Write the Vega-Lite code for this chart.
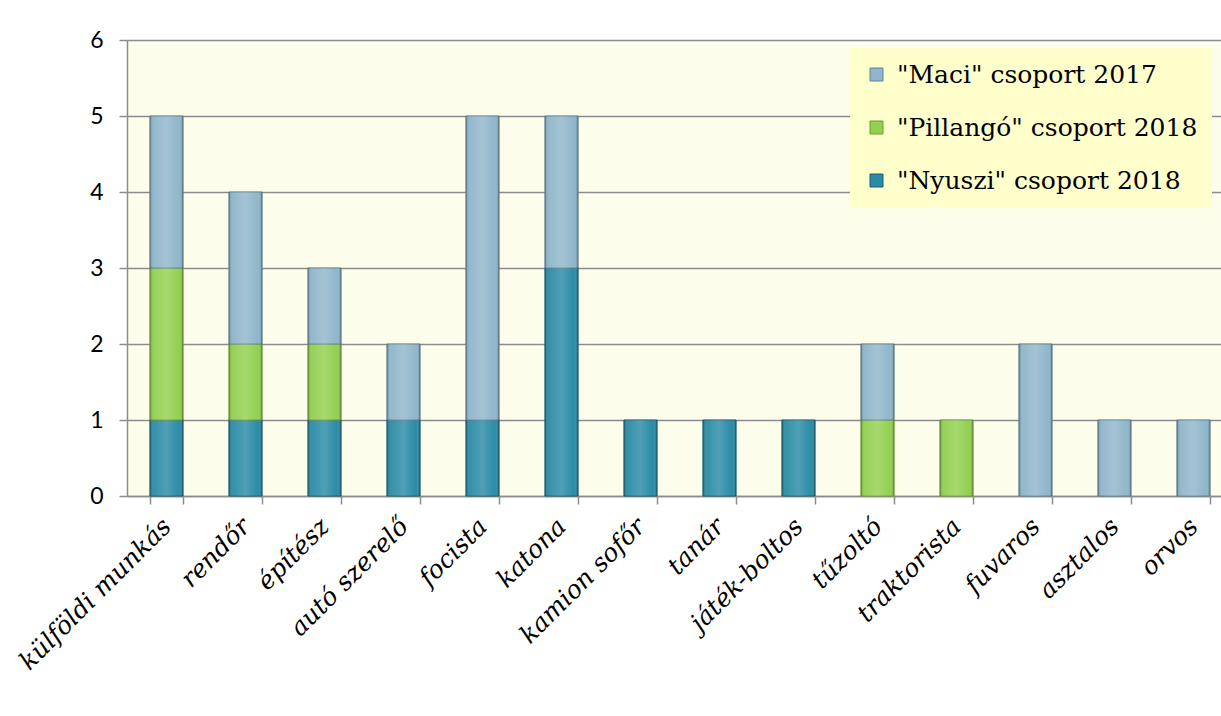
{
  "$schema": "https://vega.github.io/schema/vega-lite/v6.json",
  "autosize": "none",
  "width": 1106,
  "height": 456,
  "padding": {"left": 127, "top": 40, "right": 0, "bottom": 220},
  "background": "#ffffff",
  "config": {
    "view": {"fill": "#FDFDEC", "stroke": null},
    "axis": {"domainColor": "#8c8c8c", "tickColor": "#8c8c8c", "gridColor": "#8c8c8c", "domainWidth": 1.5, "tickWidth": 1.5, "gridWidth": 1.5}
  },
  "data": {
    "values": [
      {"job": "külföldi munkás", "series": "\"Nyuszi\" csoport 2018", "k": 1, "n": 1},
      {"job": "külföldi munkás", "series": "\"Pillangó\" csoport 2018", "k": 2, "n": 2},
      {"job": "külföldi munkás", "series": "\"Maci\" csoport 2017", "k": 3, "n": 2},
      {"job": "rendőr", "series": "\"Nyuszi\" csoport 2018", "k": 1, "n": 1},
      {"job": "rendőr", "series": "\"Pillangó\" csoport 2018", "k": 2, "n": 1},
      {"job": "rendőr", "series": "\"Maci\" csoport 2017", "k": 3, "n": 2},
      {"job": "építész", "series": "\"Nyuszi\" csoport 2018", "k": 1, "n": 1},
      {"job": "építész", "series": "\"Pillangó\" csoport 2018", "k": 2, "n": 1},
      {"job": "építész", "series": "\"Maci\" csoport 2017", "k": 3, "n": 1},
      {"job": "autó szerelő", "series": "\"Nyuszi\" csoport 2018", "k": 1, "n": 1},
      {"job": "autó szerelő", "series": "\"Maci\" csoport 2017", "k": 3, "n": 1},
      {"job": "focista", "series": "\"Nyuszi\" csoport 2018", "k": 1, "n": 1},
      {"job": "focista", "series": "\"Maci\" csoport 2017", "k": 3, "n": 4},
      {"job": "katona", "series": "\"Nyuszi\" csoport 2018", "k": 1, "n": 3},
      {"job": "katona", "series": "\"Maci\" csoport 2017", "k": 3, "n": 2},
      {"job": "kamion sofőr", "series": "\"Nyuszi\" csoport 2018", "k": 1, "n": 1},
      {"job": "tanár", "series": "\"Nyuszi\" csoport 2018", "k": 1, "n": 1},
      {"job": "játék-boltos", "series": "\"Nyuszi\" csoport 2018", "k": 1, "n": 1},
      {"job": "tűzoltó", "series": "\"Pillangó\" csoport 2018", "k": 2, "n": 1},
      {"job": "tűzoltó", "series": "\"Maci\" csoport 2017", "k": 3, "n": 1},
      {"job": "traktorista", "series": "\"Pillangó\" csoport 2018", "k": 2, "n": 1},
      {"job": "fuvaros", "series": "\"Maci\" csoport 2017", "k": 3, "n": 2},
      {"job": "asztalos", "series": "\"Maci\" csoport 2017", "k": 3, "n": 1},
      {"job": "orvos", "series": "\"Maci\" csoport 2017", "k": 3, "n": 1}
    ]
  },
  "encoding": {
    "x": {
      "field": "job",
      "type": "nominal",
      "sort": null,
      "scale": {"paddingInner": 0.58, "paddingOuter": 0.29},
      "axis": {
        "title": null,
        "labelAngle": -45,
        "labelAlign": "right",
        "labelBaseline": "middle",
        "labelFont": "DejaVu Serif",
        "labelFontStyle": "italic",
        "labelFontSize": 25,
        "labelColor": "#000000",
        "labelPadding": 18,
        "labelDx": -8,
        "labelLimit": 400,
        "labelOverlap": false,
        "tickBand": "extent",
        "tickSize": 8
      }
    },
    "y": {
      "field": "n",
      "type": "quantitative",
      "stack": "zero",
      "scale": {"domain": [0, 6]},
      "axis": {
        "title": null,
        "values": [0, 1, 2, 3, 4, 5, 6],
        "labelFont": "Lato",
        "labelFontSize": 23,
        "labelColor": "#000000",
        "labelPadding": 16,
        "tickSize": 8,
        "grid": true
      }
    },
    "order": {"field": "k", "type": "quantitative", "sort": "ascending"},
    "detail": {"field": "series", "type": "nominal"}
  },
  "layer": [
    {
      "mark": {"type": "bar", "strokeWidth": 1},
      "encoding": {
        "color": {
          "field": "series",
          "type": "nominal",
          "scale": {
            "domain": ["\"Maci\" csoport 2017", "\"Pillangó\" csoport 2018", "\"Nyuszi\" csoport 2018"],
            "range": ["#8FB6CA", "#92D050", "#2A8BA6"]
          },
          "legend": {
            "title": null,
            "orient": "none",
            "legendX": 723,
            "legendY": 8,
            "fillColor": "#FFFFCC",
            "padding": 14,
            "symbolType": "square",
            "symbolSize": 169,
            "symbolStrokeWidth": 1,
            "symbolStrokeColor": "#4a6a7a",
            "labelFont": "DejaVu Serif",
            "labelFontSize": 25,
            "labelColor": "#000000",
            "labelOffset": 8,
            "rowPadding": 27,
            "labelLimit": 400
          }
        },
        "stroke": {
          "field": "series",
          "type": "nominal",
          "scale": {
            "domain": ["\"Maci\" csoport 2017", "\"Pillangó\" csoport 2018", "\"Nyuszi\" csoport 2018"],
            "range": ["#5f8394", "#6c9c36", "#1a5f75"]
          },
          "legend": null
        }
      }
    },
    {
      "mark": {
        "type": "bar",
        "fill": {
          "gradient": "linear",
          "x1": 0, "y1": 0, "x2": 1, "y2": 0,
          "stops": [
            {"offset": 0, "color": "rgba(0,0,0,0.28)"},
            {"offset": 0.12, "color": "rgba(255,255,255,0.05)"},
            {"offset": 0.5, "color": "rgba(255,255,255,0.18)"},
            {"offset": 0.88, "color": "rgba(255,255,255,0.0)"},
            {"offset": 1, "color": "rgba(0,0,0,0.32)"}
          ]
        }
      }
    }
  ]
}
